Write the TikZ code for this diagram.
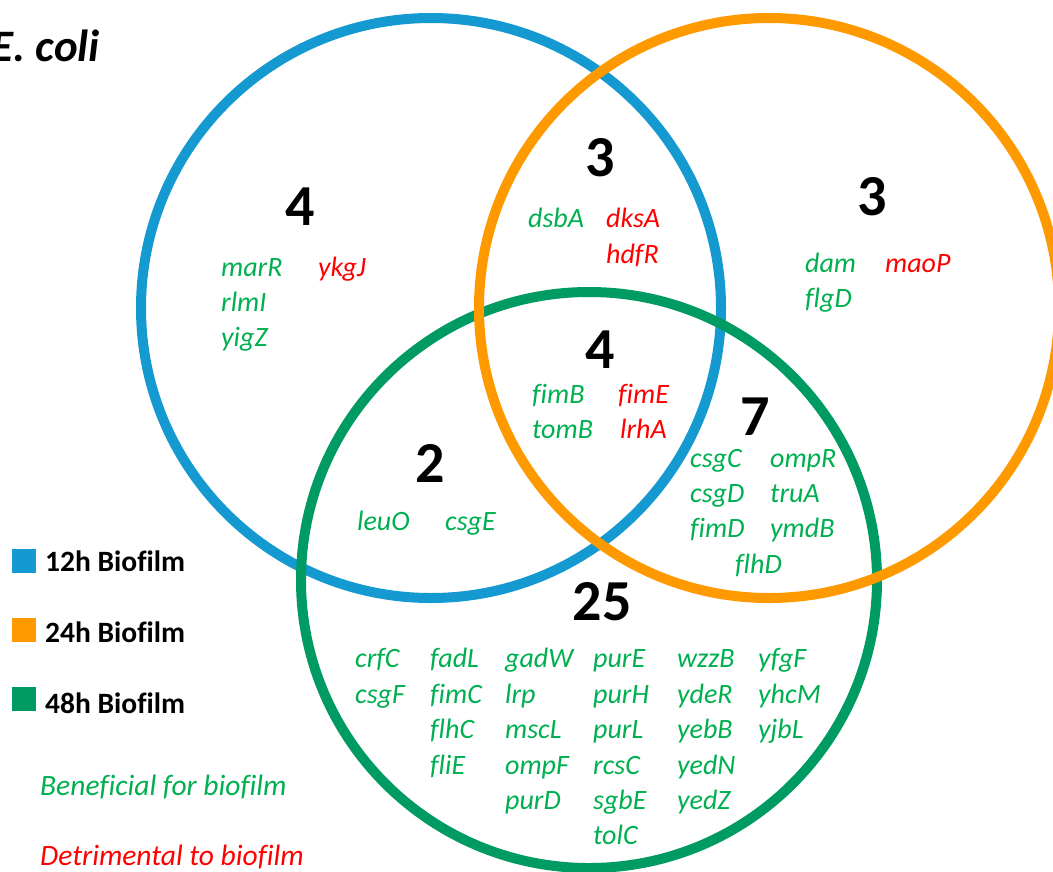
\documentclass[tikz,border=0pt]{standalone}
\usepackage{fontspec}
\setmainfont{Carlito}[Ligatures=NoCommon]
\definecolor{cblue}{HTML}{1499D0}
\definecolor{corange}{HTML}{FF9900}
\definecolor{cgreen}{HTML}{009A63}
\definecolor{tgreen}{HTML}{00B050}
\definecolor{tred}{HTML}{FF0000}
\begin{document}
\begin{tikzpicture}[x=1pt,y=-1pt,
  ring/.style={line width=10pt},
  gene/.style={anchor=base west, inner sep=0pt, font=\fontsize{28}{34}\selectfont\itshape},
  count/.style={anchor=base, inner sep=0pt, font=\fontsize{58}{64}\selectfont\bfseries},
  legendbox/.style={minimum size=24pt, inner sep=0pt, anchor=north west},
  legendtext/.style={anchor=base west, inner sep=0pt, font=\fontsize{29.5}{34}\selectfont\bfseries},
  notetext/.style={anchor=base west, inner sep=0pt, font=\fontsize{29.5}{34}\selectfont\itshape}]
\useasboundingbox (0,0) rectangle (1053,871);

% circle centres
\coordinate (c12) at (431,308);
\coordinate (c24) at (769,308);
\coordinate (c48) at (589,580);

% the three sets
\draw[ring, cblue] (c12) circle[radius=290];
\draw[ring, cgreen] (c48) circle[radius=288];
\draw[ring, corange] (c24) circle[radius=290];

% title
\node[anchor=base east, inner sep=0pt, font=\fontsize{45}{50}\selectfont\bfseries\itshape] (title) at (100,61) {E. coli};

% counts per region
\node[count] (n12) at (300,225) {4};
\node[count] (n1224) at (600,176) {3};
\node[count] (n24) at (872,215) {3};
\node[count] (nall) at (600,368) {4};
\node[count] (n2448) at (755,435) {7};
\node[count] (n1248) at (430,482) {2};
\node[count] (n48) at (602,620) {25};

% genes: name / x / baseline / colour
\foreach \g/\x/\y/\c in {
  marR/221/276/tgreen, rlmI/221/311/tgreen, yigZ/221/346/tgreen, ykgJ/318/276/tred,
  dsbA/528/227/tgreen, dksA/606/227/tred, hdfR/606/263/tred,
  dam/805/272/tgreen, flgD/805/307/tgreen, maoP/885/272/tred,
  fimB/532/403/tgreen, tomB/532/438/tgreen, fimE/618/403/tred, lrhA/620/438/tred,
  csgC/690/467/tgreen, csgD/690/502/tgreen, fimD/690/537/tgreen,
  ompR/770/467/tgreen, truA/770/502/tgreen, ymdB/770/537/tgreen, flhD/735/573/tgreen,
  leuO/357/530/tgreen, csgE/445/530/tgreen,
  crfC/355/667/tgreen, csgF/355/703/tgreen,
  fadL/430/667/tgreen, fimC/430/703/tgreen, flhC/430/738/tgreen, fliE/430/774/tgreen,
  gadW/505/667/tgreen, lrp/505/703/tgreen, mscL/505/738/tgreen, ompF/505/774/tgreen, purD/505/809/tgreen,
  purE/593/667/tgreen, purH/593/703/tgreen, purL/593/738/tgreen, rcsC/593/774/tgreen, sgbE/593/809/tgreen, tolC/593/844/tgreen,
  wzzB/677/667/tgreen, ydeR/677/703/tgreen, yebB/677/738/tgreen, yedN/677/774/tgreen, yedZ/677/809/tgreen,
  yfgF/758/667/tgreen, yhcM/758/703/tgreen, yjbL/758/738/tgreen}
  \node[gene, text=\c] (\g) at (\x,\y) {\g};

% legend
\node[legendbox, fill=cblue] (k12) at (12,549) {};
\node[legendtext] (l12) at (45,571) {12h Biofilm};
\node[legendbox, fill=corange] (k24) at (12,618) {};
\node[legendtext] (l24) at (45,642) {24h Biofilm};
\node[legendbox, fill=cgreen] (k48) at (12,687) {};
\node[legendtext] (l48) at (45,713) {48h Biofilm};
\node[notetext, text=tgreen] (good) at (40,795) {Beneficial for biofilm};
\node[notetext, text=tred] (bad) at (40,865) {Detrimental to biofilm};
\end{tikzpicture}
\end{document}
